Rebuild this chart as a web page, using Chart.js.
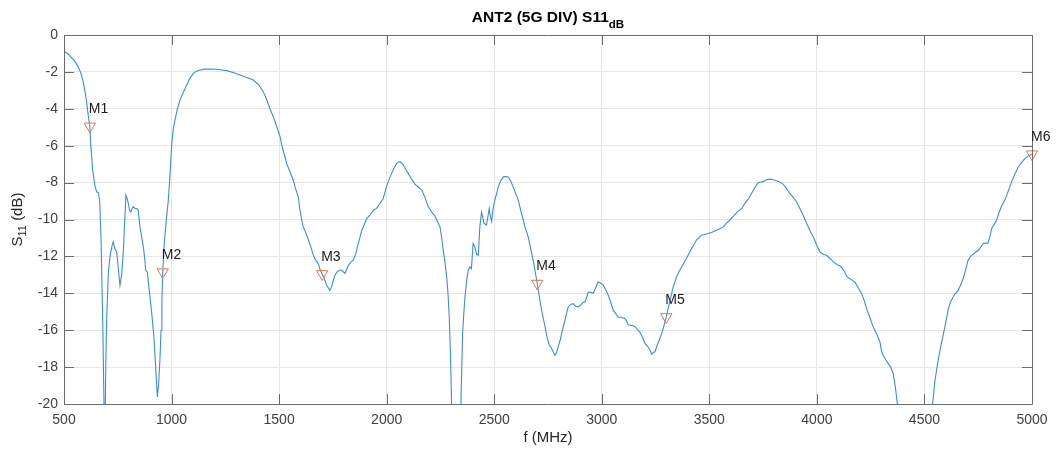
<!DOCTYPE html>
<html><head><meta charset="utf-8">
<script src="https://cdn.jsdelivr.net/npm/chart.js@4.4.0/dist/chart.umd.min.js"></script>
<style>html,body{margin:0;padding:0;background:#fff}#wrap{width:1056px;height:454px;position:relative}</style>
</head><body><div id="wrap"><canvas id="c" width="1056" height="454"></canvas></div>
<script>
const freqMHz = [500,520,536,552,567,580,590,598,605,612,620,624,633,644,652,660,666,672,680,686,690,694,698,706,714,722,729,737,745,752,760,768,776,783,788,794,799,805,811,817,822,830,838,845,853,861,869,876,880,887,896,908,918,926,934,940,946,951,955,959,966,977,985,993,1001,1008,1016,1027,1039,1055,1070,1085,1101,1115,1132,1155,1179,1210,1235,1256,1290,1318,1350,1380,1405,1426,1442,1457,1475,1489,1504,1515,1527,1535,1550,1566,1574,1589,1597,1605,1612,1620,1636,1648,1659,1670,1682,1690,1700,1710,1721,1736,1745,1752,1760,1770,1780,1791,1800,1806,1814,1822,1835,1845,1858,1868,1884,1895,1907,1922,1938,1953,1969,1984,1999,2010,2023,2035,2046,2055,2062,2070,2077,2090,2100,2115,2131,2148,2163,2178,2193,2210,2224,2236,2248,2256,2263,2271,2279,2285,2291,2297,2302,2312,2325,2337,2345,2353,2358,2364,2372,2379,2387,2394,2402,2410,2418,2426,2433,2441,2447,2452,2464,2470,2477,2482,2488,2495,2503,2511,2519,2530,2542,2555,2565,2576,2588,2600,2612,2625,2635,2643,2658,2670,2681,2690,2700,2710,2720,2736,2746,2756,2765,2775,2782,2790,2797,2805,2813,2821,2829,2836,2844,2855,2867,2878,2890,2900,2913,2922,2930,2937,2948,2960,2972,2983,2995,3007,3018,3030,3042,3053,3065,3076,3090,3107,3115,3123,3140,3154,3165,3177,3190,3200,3215,3225,3232,3240,3247,3255,3265,3278,3288,3300,3308,3317,3325,3332,3348,3360,3371,3394,3417,3441,3464,3495,3515,3534,3549,3565,3580,3595,3610,3627,3650,3665,3681,3696,3710,3727,3740,3750,3765,3781,3797,3812,3828,3843,3858,3874,3890,3905,3921,3936,3952,3967,3983,3998,4014,4030,4045,4060,4076,4095,4105,4115,4125,4140,4153,4165,4177,4192,4208,4220,4231,4246,4262,4278,4293,4300,4308,4320,4331,4343,4355,4365,4374,4400,4455,4510,4538,4548,4564,4579,4595,4610,4620,4633,4645,4657,4670,4680,4692,4703,4719,4735,4750,4762,4773,4785,4796,4805,4812,4825,4835,4846,4858,4874,4890,4905,4920,4936,4952,4967,4982,5000];
const s11dB = [-0.87,-1.04,-1.24,-1.46,-1.74,-2.12,-2.58,-3.08,-3.62,-4.3,-4.95,-5.9,-7.3,-8.2,-8.5,-8.55,-9.0,-11,-15.5,-20,-23,-18,-15.5,-12.9,-12.0,-11.5,-11.2,-11.6,-11.75,-12.6,-13.56,-13.0,-11.7,-9.86,-8.68,-8.9,-9.13,-9.5,-9.6,-9.4,-9.3,-9.4,-9.4,-9.5,-10.4,-10.94,-11.5,-12.2,-12.75,-12.84,-13.8,-15.1,-16.37,-18.0,-19.62,-18.9,-17.6,-16.0,-14.5,-12.85,-11.3,-9.86,-8.95,-7.5,-5.88,-5.1,-4.6,-4.0,-3.53,-3.1,-2.71,-2.35,-2.08,-1.97,-1.9,-1.85,-1.84,-1.86,-1.9,-1.93,-2.05,-2.17,-2.3,-2.44,-2.7,-3.07,-3.5,-3.98,-4.5,-4.97,-5.5,-6.1,-6.6,-6.96,-7.4,-7.87,-8.23,-8.77,-9.5,-10.0,-10.4,-10.6,-11.1,-11.5,-11.94,-12.2,-12.39,-12.7,-12.95,-13.2,-13.56,-13.84,-13.6,-13.3,-13.0,-12.84,-12.75,-12.75,-12.85,-12.93,-12.7,-12.48,-12.3,-12.2,-11.8,-11.3,-10.6,-10.3,-9.95,-9.77,-9.5,-9.4,-9.13,-8.86,-8.23,-7.85,-7.5,-7.2,-6.96,-6.88,-6.87,-6.95,-7.05,-7.3,-7.5,-7.8,-8.08,-8.25,-8.4,-8.8,-9.3,-9.6,-9.8,-10.1,-10.4,-11.0,-11.67,-12.3,-13.1,-14.0,-15.3,-17.5,-20,-25,-28,-24,-20,-16.2,-15.2,-14.2,-13.3,-12.75,-12.57,-12.66,-11.3,-11.49,-11.9,-11.94,-10.4,-9.6,-9.9,-10.2,-10.3,-9.9,-9.4,-9.8,-10.1,-9.4,-8.95,-8.6,-8.23,-7.9,-7.69,-7.67,-7.69,-7.9,-8.23,-8.6,-8.95,-9.6,-10.04,-10.4,-10.94,-11.6,-12.2,-12.8,-13.47,-14.2,-14.9,-15.8,-16.4,-16.8,-16.95,-17.2,-17.36,-17.2,-16.9,-16.6,-16.2,-15.8,-15.46,-15.1,-14.74,-14.6,-14.56,-14.7,-14.74,-14.65,-14.5,-14.47,-14.2,-13.93,-13.95,-14.0,-13.7,-13.38,-13.45,-13.56,-13.8,-14.1,-14.5,-14.9,-15.1,-15.3,-15.3,-15.37,-15.5,-15.7,-15.75,-15.8,-15.95,-16.1,-16.4,-16.7,-16.9,-17.1,-17.3,-17.2,-17.18,-16.9,-16.6,-16.2,-15.8,-15.28,-14.85,-14.38,-14.0,-13.66,-13.1,-12.8,-12.57,-12.1,-11.58,-11.1,-10.85,-10.76,-10.68,-10.58,-10.5,-10.4,-10.2,-10.04,-9.85,-9.63,-9.4,-9.13,-8.9,-8.59,-8.3,-8.01,-7.97,-7.96,-7.85,-7.81,-7.85,-7.9,-7.98,-8.08,-8.3,-8.59,-8.8,-9.04,-9.4,-9.77,-10.2,-10.58,-10.94,-11.35,-11.76,-11.9,-11.94,-12.1,-12.3,-12.45,-12.5,-12.6,-12.75,-13.1,-13.2,-13.3,-13.4,-13.7,-14.02,-14.4,-14.83,-15.3,-15.83,-16.2,-16.64,-17.1,-17.36,-17.6,-17.8,-18.0,-18.36,-19.1,-20,-23,-27,-23,-20,-18.8,-17.6,-16.7,-15.83,-14.9,-14.5,-14.2,-14.0,-13.84,-13.5,-13.2,-12.7,-12.2,-11.94,-11.8,-11.67,-11.5,-11.3,-11.28,-11.27,-10.9,-10.5,-10.25,-10.04,-9.65,-9.3,-8.95,-8.45,-7.96,-7.55,-7.15,-6.9,-6.7,-6.55,-6.46];
const markerNames = ['M1','M2','M3','M4','M5','M6'];
const markerFreqMHz = [620,959,1700,2700,3300,5000];
const markerS11dB = [-4.95,-12.85,-12.95,-13.47,-15.28,-6.46];
const xTickValues = [500,1000,1500,2000,2500,3000,3500,4000,4500,5000];
const yTickValues = [0,-2,-4,-6,-8,-10,-12,-14,-16,-18,-20];

const FONT = '"Liberation Sans", Arial, Helvetica, sans-serif';
const AXIS_COLOR = '#6b6b6b';

const decor = {
  id: 'decor',
  afterDatasetsDraw(chart) {
    const ctx = chart.ctx, a = chart.chartArea;
    const xs = chart.scales.x, ys = chart.scales.y;
    ctx.save();
    ctx.strokeStyle = AXIS_COLOR;
    ctx.lineWidth = 1;
    ctx.beginPath();
    ctx.rect(Math.round(a.left)+0.5, Math.round(a.top)+0.5, Math.round(a.right-a.left), Math.round(a.bottom-a.top));
    ctx.stroke();
    ctx.beginPath();
    const tl = 10;
    xTickValues.forEach(v => {
      const px = Math.round(xs.getPixelForValue(v)) + 0.5;
      ctx.moveTo(px, a.top); ctx.lineTo(px, a.top + tl);
      ctx.moveTo(px, a.bottom); ctx.lineTo(px, a.bottom - tl);
    });
    yTickValues.forEach(v => {
      const py = Math.round(ys.getPixelForValue(v)) + 0.5;
      ctx.moveTo(a.left, py); ctx.lineTo(a.left + tl, py);
      ctx.moveTo(a.right, py); ctx.lineTo(a.right - tl, py);
    });
    ctx.stroke();
    ctx.restore();
  },
  afterDraw(chart) {
    const ctx = chart.ctx, a = chart.chartArea;
    const xs = chart.scales.x, ys = chart.scales.y;
    ctx.save();
    // marker labels
    ctx.fillStyle = '#1a1a1a';
    ctx.font = '14px ' + FONT;
    ctx.textAlign = 'left';
    ctx.textBaseline = 'middle';
    markerNames.forEach((n, i) => {
      const px = xs.getPixelForValue(markerFreqMHz[i]);
      const py = ys.getPixelForValue(markerS11dB[i]);
      ctx.fillText(n, px - 1, py - 17);
    });
    // title
    const cx = (a.left + a.right) / 2;
    ctx.fillStyle = '#000';
    ctx.textBaseline = 'alphabetic';
    ctx.font = 'bold 15.5px ' + FONT;
    const main = 'ANT2 (5G DIV) S11';
    const wMain = ctx.measureText(main).width;
    ctx.font = 'bold 11.5px ' + FONT;
    const wSub = ctx.measureText('dB').width;
    const x0 = cx - (wMain + wSub) / 2;
    ctx.textAlign = 'left';
    ctx.font = 'bold 15.5px ' + FONT;
    ctx.fillText(main, x0, 22);
    ctx.font = 'bold 11.5px ' + FONT;
    ctx.fillText('dB', x0 + wMain, 28);
    // x label
    ctx.textBaseline = 'middle';
    ctx.fillStyle = '#262626';
    ctx.font = '15px ' + FONT;
    ctx.textAlign = 'center';
    ctx.fillText('f (MHz)', cx, 438);
    // y label
    ctx.translate(18, (a.top + a.bottom) / 2);
    ctx.rotate(-Math.PI / 2);
    ctx.font = '15px ' + FONT;
    const p1 = 'S', p2 = '11', p3 = ' (dB)';
    const w1 = ctx.measureText(p1).width, w3 = ctx.measureText(p3).width;
    ctx.font = '11px ' + FONT;
    const w2 = ctx.measureText(p2).width;
    let sx = -(w1 + w2 + w3) / 2;
    ctx.textAlign = 'left';
    ctx.font = '15px ' + FONT;
    ctx.fillText(p1, sx, 0);
    ctx.font = '11px ' + FONT;
    ctx.fillText(p2, sx + w1, 5);
    ctx.font = '15px ' + FONT;
    ctx.fillText(p3, sx + w1 + w2, 0);
    ctx.restore();
  }
};

const linePoints = freqMHz.map((f, i) => ({x: f, y: s11dB[i]}));
const markerPoints = markerFreqMHz.map((f, i) => ({x: f, y: markerS11dB[i]}));

new Chart(document.getElementById('c'), {
  type: 'scatter',
  data: {
    datasets: [
      {
        label: 'markers', data: markerPoints, showLine: false,
        pointStyle: 'triangle', rotation: 180, pointRadius: 6.5,
        pointBorderColor: '#e2764d', pointBackgroundColor: 'rgba(0,0,0,0)',
        pointBorderWidth: 1, clip: false, order: 0
      },
      {
        label: 'S11', data: linePoints, showLine: true,
        borderColor: '#3a8fd3', borderWidth: 1.1, pointRadius: 0,
        tension: 0, order: 1
      }
    ]
  },
  options: {
    responsive: false, animation: false, devicePixelRatio: 1,
    layout: { padding: { left: 0, right: 24, top: 35, bottom: 0 } },
    plugins: { legend: { display: false }, tooltip: { enabled: false }, title: { display: false } },
    scales: {
      x: {
        type: 'linear', min: 500, max: 5000,
        afterFit: s => { s.height = 50; },
        afterBuildTicks: s => { s.ticks = xTickValues.map(v => ({value: v})); },
        grid: { color: '#e6e6e6', drawTicks: false },
        border: { display: false },
        ticks: { padding: 8, color: '#404040', font: { family: FONT, size: 14 }, maxRotation: 0,
                 callback: v => String(v) }
      },
      y: {
        type: 'linear', min: -20, max: 0,
        afterFit: s => { s.width = 64; },
        afterBuildTicks: s => { s.ticks = yTickValues.map(v => ({value: v})); },
        grid: { color: '#e6e6e6', drawTicks: false },
        border: { display: false },
        ticks: { padding: 6, color: '#404040', font: { family: FONT, size: 14 },
                 callback: v => String(v) }
      }
    }
  },
  plugins: [decor]
});
</script>
</body></html>
